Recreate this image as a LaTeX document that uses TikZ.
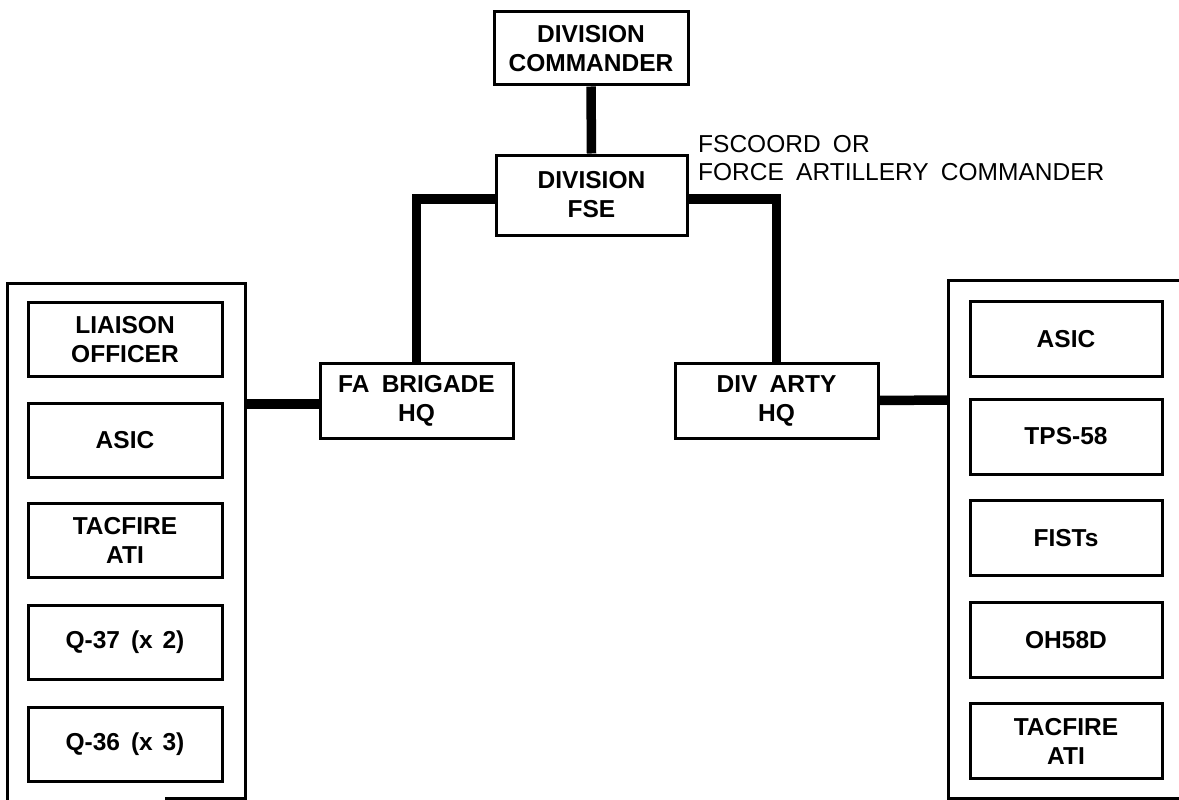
\documentclass[tikz,border=0pt]{standalone}
\usepackage{fontspec}
\setmainfont{Liberation Sans}
\begin{document}
\begin{tikzpicture}[x=1pt,y=-1pt,
  box/.style={draw, line width=3pt, inner sep=0pt, align=center,
    font=\bfseries\fontsize{24.5}{29}\selectfont},
  conn/.style={line width=9.5pt},
  frame/.style={line width=3pt}]
\useasboundingbox (0,0) rectangle (1179,800);
% top chain
\node[box, minimum width=194pt, minimum height=73pt] (dc) at (591,48.5) {DIVISION\\COMMANDER};
\node[box, minimum width=191pt, minimum height=80pt] (fse) at (591.5,195) {DIVISION\\FSE};
\node[box, minimum width=193pt, minimum height=75pt] (fab) at (416.5,400.5) {FA\hspace{0.5em}BRIGADE\\HQ};
\node[box, minimum width=203pt, minimum height=75pt] (dah) at (776.5,400.5) {DIV\hspace{0.5em}ARTY\\HQ};
\node[anchor=north west, inner sep=0pt, align=left,
  font=\fontsize{24.5}{28}\selectfont] (lbl) at (698,135)
  {FSCOORD\hspace{0.5em}OR\\FORCE\hspace{0.5em}ARTILLERY\hspace{0.5em}COMMANDER};
% left group
\draw[frame] (7,800) -- (7,283) -- (245,283) -- (245,800);
\draw[frame] (165,798.7) -- (245,798.7);
\coordinate (lgrpE) at (245,404);
\foreach \n/\y/\t in {l1/339.5/{LIAISON\\OFFICER}, l2/440/{ASIC}, l3/540/{TACFIRE\\ATI},
    l4/642/{Q-37\hspace{0.45em}(x\hspace{0.4em}2)}, l5/744.5/{Q-36\hspace{0.45em}(x\hspace{0.4em}3)}}
  \node[box, minimum width=194pt, minimum height=74pt] (\n) at (125,\y) {\t};
% right group
\draw[frame] (1185,280) -- (948,280) -- (948,798) -- (1185,798);
\coordinate (rgrpW) at (948,400);
\foreach \n/\y/\t in {r1/339/{ASIC}, r2/436.5/{TPS-58}, r3/538/{FISTs},
    r4/640/{OH58D}, r5/741/{TACFIRE\\ATI}}
  \node[box, minimum width=192pt, minimum height=75pt] (\n) at (1066,\y) {\t};
% connectors
\draw[conn] (dc.south) -- (fse.north);
\draw[conn] ([yshift=-4pt]fse.west) -| (fab.north);
\draw[conn] ([yshift=-4pt]fse.east) -| (dah.north);
\draw[conn] (fab.west |- lgrpE) -- (lgrpE);
\draw[conn] (dah.east) -- (rgrpW);
\end{tikzpicture}
\end{document}
